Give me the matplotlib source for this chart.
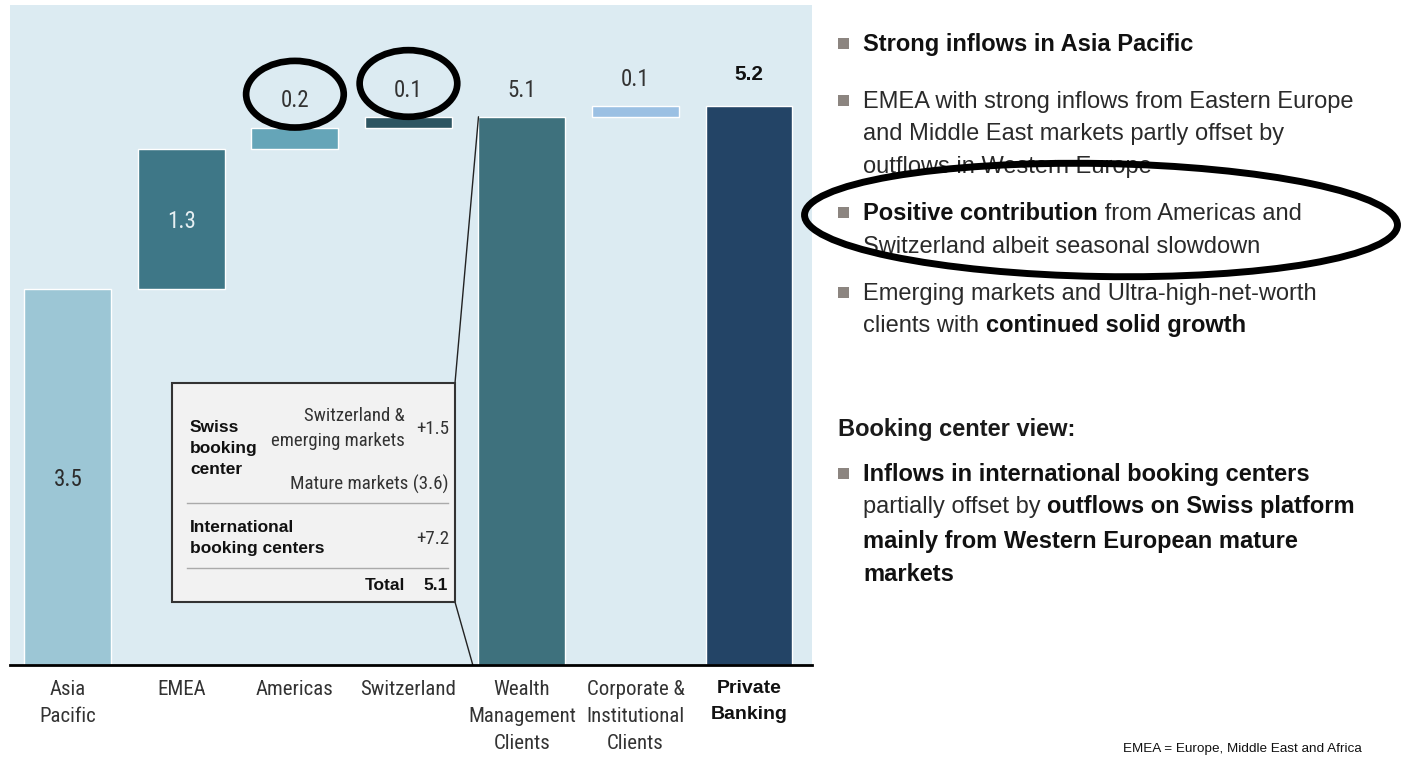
import matplotlib
matplotlib.use("Agg")
import matplotlib.pyplot as plt
from matplotlib.patches import Ellipse, Rectangle, ConnectionPatch
from matplotlib.font_manager import FontProperties, fontManager


# chart data
categories = ["Asia\nPacific", "EMEA", "Americas", "Switzerland",
              "Wealth\nManagement\nClients", "Corporate &\nInstitutional\nClients",
              "Private\nBanking"]
values = [3.5, 1.3, 0.2, 0.1, 5.1, 0.1, 5.2]
is_total = [False, False, False, False, True, False, True]
bar_colors = ["#9cc6d5", "#3e7787", "#65a5b8", "#2d5562", "#3e717d", "#9bc0e3", "#234466"]
label_inside = [True, True, False, False, False, False, False]

# booking center box
box_rows = [("Switzerland &\nemerging markets", "+1.5"), ("Mature markets", "(3.6)")]
intl_value = "+7.2"
box_total = "5.1"

SANS = "Liberation Sans"
plt.rcParams["font.family"] = [SANS, "DejaVu Sans"]

# look for a narrow face for the chart labels
narrow_file = None
for want in ("Roboto Condensed", "Liberation Sans Narrow"):
    for f in fontManager.ttflist:
        if f.name == want and f.style == "normal" and f.weight in (400, "normal", "regular"):
            narrow_file = f.fname
            break
    if narrow_file:
        break
if narrow_file is None:
    for f in fontManager.ttflist:
        if f.name.startswith("DejaVu Sans") and "ondensed" in f.fname and f.style == "normal" \
                and "Bold" not in f.fname:
            narrow_file = f.fname
            break


def nfont(size):
    if narrow_file:
        return FontProperties(fname=narrow_file, size=size)
    return FontProperties(family=SANS, size=size * 0.85)


W, H = 1401, 757
fig = plt.figure(figsize=(W / 100, H / 100), dpi=100)


def P(x, y):
    # reference pixel -> figure fraction
    return x / W, 1 - y / H


ax = fig.add_axes([10 / W, (H - 665) / H, 802 / W, 660 / H])
ax.set_facecolor("#dcebf2")

# waterfall bottoms
bottoms = []
running = 0
for v, tot in zip(values, is_total):
    if tot:
        bottoms.append(0)
        running = v
    else:
        bottoms.append(running)
        running += v

xs = list(range(len(values)))
ax.bar(xs, values, bottom=bottoms, width=0.766, color=bar_colors,
       edgecolor="white", linewidth=1, zorder=2)

for i, (v, b) in enumerate(zip(values, bottoms)):
    txt = "{:.1f}".format(v)
    if label_inside[i]:
        col = "#2b2b2b" if i == 0 else "#e6eff2"
        ax.annotate(txt, (i, b + v / 2), xytext=(0, -2), textcoords="offset points",
                    ha="center", va="center", fontproperties=nfont(16.5),
                    color=col, zorder=3)
    elif i == len(values) - 1:
        ax.annotate(txt, (i, b + v), xytext=(0, 16), textcoords="offset points",
                    ha="center", va="bottom", fontsize=15, fontweight="bold",
                    color="#111111", zorder=3)
    else:
        ax.annotate(txt, (i, b + v), xytext=(0, 11), textcoords="offset points",
                    ha="center", va="bottom", fontproperties=nfont(16.5),
                    color="#333333", zorder=3)

# hand drawn circles round Americas / Switzerland labels
for i in (2, 3):
    ax.add_patch(Ellipse((i, bottoms[i] + values[i] + 0.31), 0.86, 0.62,
                         fill=False, edgecolor="black", linewidth=4.8, zorder=5,
                         clip_on=False))

ax.set_xlim(-0.51, 6.555)
ax.set_ylim(0, 6.14)
ax.set_yticks([])
for s in ("top", "left", "right"):
    ax.spines[s].set_visible(False)
ax.spines["bottom"].set_linewidth(2)
ax.spines["bottom"].set_color("black")
ax.spines["bottom"].set_zorder(4)
ax.set_xticks(xs)
ax.set_xticklabels(categories)
ax.tick_params(axis="x", length=0, pad=11)
for k, lab in enumerate(ax.get_xticklabels()):
    if k == len(categories) - 1:
        lab.set_family(SANS)
        lab.set_fontweight("bold")
        lab.set_fontsize(14)
        lab.set_color("#111111")
        lab.set_linespacing(1.7)
    else:
        lab.set_fontproperties(nfont(15))
        lab.set_color("#333333")
        lab.set_linespacing(1.52 if narrow_file else 1.63)

# inset box
bx0, by0 = (172 - 10) / 802, (665 - 602) / 660
bx1, by1 = (455 - 10) / 802, (665 - 383) / 660
ax.add_patch(Rectangle((bx0, by0), bx1 - bx0, by1 - by0, transform=ax.transAxes,
                       facecolor="#f2f2f2", edgecolor="#333333", linewidth=1.5, zorder=6))
wm = 4
half = 0.766 / 2
ax.add_artist(ConnectionPatch((bx1, by1), (wm - half, values[wm]), coordsA=ax.transAxes,
                              coordsB=ax.transData, color="#222222", linewidth=1, zorder=3))
ax.add_artist(ConnectionPatch((bx1, by0), (wm - half - 0.05, 0), coordsA=ax.transAxes,
                              coordsB=ax.transData, color="#222222", linewidth=1, zorder=3))

bold_kw = dict(family=SANS, fontweight="bold", fontsize=12.5, color="#111111", zorder=7)
fig.text(*P(190, 448), "Swiss\nbooking\ncenter", ha="left", va="center", linespacing=1.5, **bold_kw)
fig.text(*P(405, 429), box_rows[0][0], ha="right", va="center", linespacing=1.5,
         fontproperties=nfont(13.5), color="#333333", zorder=7)
fig.text(*P(449, 429), box_rows[0][1], ha="right", va="center",
         fontproperties=nfont(13.7), color="#333333", zorder=7)
fig.text(*P(449, 484), box_rows[1][0] + " " + box_rows[1][1], ha="right", va="center",
         fontproperties=nfont(13.7), color="#333333", zorder=7)
fig.text(*P(190, 538), "International\nbooking centers", ha="left", va="center", linespacing=1.5, **bold_kw)
fig.text(*P(449, 539), intl_value, ha="right", va="center",
         fontproperties=nfont(13.7), color="#333333", zorder=7)
fig.text(*P(405, 586), "Total", ha="right", va="center", **bold_kw)
fig.text(*P(448, 586), box_total, ha="right", va="center", **bold_kw)
for yy in (503, 568):
    fig.add_artist(plt.Line2D([187 / W, 448 / W], [1 - yy / H, 1 - yy / H],
                              color="#aaaaaa", linewidth=1, zorder=7))

# right hand commentary
renderer = fig.canvas.get_renderer()


def runs(x, y, parts, size=17):
    fx, fy = P(x, y)
    for s, w in parts:
        t = fig.text(fx, fy, s, fontsize=size, family=SANS, va="baseline", ha="left",
                     fontweight=w, color="#111111" if w == "bold" else "#2a2a2a")
        fx += t.get_window_extent(renderer=renderer).width / W


def bullet(y):
    fig.add_artist(Rectangle(P(838, y - 2), 11 / W, 11 / H, transform=fig.transFigure,
                             facecolor="#8c8580", edgecolor="none"))


B, N = "bold", "normal"
lines = [
    (51, [("Strong inflows in Asia Pacific", B)], True),
    (108, [("EMEA with strong inflows from Eastern Europe", N)], True),
    (140, [("and Middle East markets partly offset by", N)], False),
    (173, [("outflows in Western Europe", N)], False),
    (220, [("Positive contribution", B), (" from Americas and", N)], True),
    (253, [("Switzerland albeit seasonal slowdown", N)], False),
    (300, [("Emerging markets and Ultra-high-net-worth", N)], True),
    (332, [("clients with ", N), ("continued solid growth", B)], False),
    (481, [("Inflows in international booking centers", B)], True),
    (513, [("partially offset by ", N), ("outflows on Swiss platform", B)], False),
    (548, [("mainly from Western European mature", B)], False),
    (581, [("markets", B)], False),
]
for y, parts, has_bullet in lines:
    runs(863, y, parts)
    if has_bullet:
        bullet(y)

fig.text(*P(838, 436), "Booking center view:", fontsize=17, fontweight="bold", family=SANS,
         va="baseline", color="#1a1a1a")

# big ellipse round the americas / switzerland comment
fig.add_artist(Ellipse((1101 / 100, (H - 220) / 100), 5.93, 1.13, angle=-1,
                       transform=fig.dpi_scale_trans, fill=False,
                       edgecolor="black", linewidth=5, zorder=10))

fig.text(*P(1362, 752), "EMEA = Europe, Middle East and Africa", ha="right", va="baseline",
         fontsize=9.7, family=SANS, color="#111111")

fig.savefig("out.png", dpi=100, facecolor="white")
